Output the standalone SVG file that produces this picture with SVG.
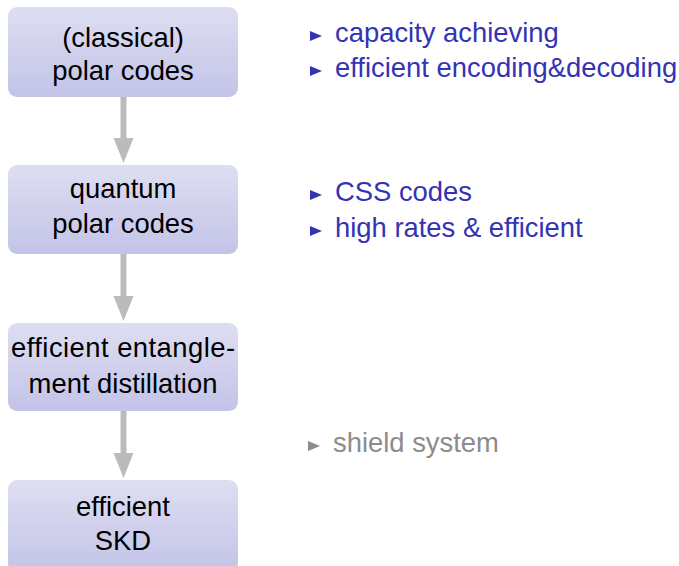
<svg xmlns="http://www.w3.org/2000/svg" width="679" height="566" viewBox="0 0 679 566">
<defs>
<linearGradient id="g" x1="0" y1="0" x2="0" y2="1">
<stop offset="0" stop-color="#dedef2"/>
<stop offset="1" stop-color="#c3c3e8"/>
</linearGradient>
<polygon id="tri" points="0,-5 12,0 0,5"/>
</defs>
<style>
.box{fill:url(#g);}
.t{font-family:"Liberation Sans",Arial,sans-serif;font-size:27.4px;fill:#000;text-anchor:middle;}
.b{font-family:"Liberation Sans",Arial,sans-serif;font-size:27.4px;fill:#3333b3;}
.gray{font-family:"Liberation Sans",Arial,sans-serif;font-size:27.4px;fill:#8c8c8c;}
.shaft{stroke:#bbbbbb;stroke-width:6;fill:none;}
.head{fill:#bbbbbb;}
</style>
<rect width="679" height="566" fill="#ffffff"/>
<g id="connectors">
<line class="shaft" x1="123.5" y1="97" x2="123.5" y2="140"/>
<polygon class="head" points="113.5,138 133.5,138 123.5,163"/>
<line class="shaft" x1="123.5" y1="254" x2="123.5" y2="298"/>
<polygon class="head" points="113.5,296 133.5,296 123.5,321"/>
<line class="shaft" x1="123.5" y1="411" x2="123.5" y2="455"/>
<polygon class="head" points="113.5,453 133.5,453 123.5,478"/>
</g>
<g id="node1">
<rect class="box" x="8" y="7" width="230" height="90" rx="9"/>
<text class="t" x="123" y="47">(classical)</text>
<text class="t" x="123" y="80">polar codes</text>
</g>
<g id="node2">
<rect class="box" x="8" y="165" width="230" height="89" rx="9"/>
<text class="t" x="123" y="198">quantum</text>
<text class="t" x="123" y="233">polar codes</text>
</g>
<g id="node3">
<rect class="box" x="8" y="323" width="230" height="88" rx="9"/>
<text class="t" x="123" y="357" textLength="224" lengthAdjust="spacing">efficient entangle-</text>
<text class="t" x="123" y="393">ment distillation</text>
</g>
<g id="node4">
<rect class="box" x="8" y="480" width="230" height="92" rx="9"/>
<text class="t" x="123" y="516">efficient</text>
<text class="t" x="123" y="550">SKD</text>
</g>
<g id="notes">
<use href="#tri" x="310" y="36" fill="#3333b3"/>
<text class="b" x="335" y="42">capacity achieving</text>
<use href="#tri" x="310" y="71" fill="#3333b3"/>
<text class="b" x="335" y="77">efficient encoding&amp;decoding</text>
<use href="#tri" x="310" y="195" fill="#3333b3"/>
<text class="b" x="335" y="201">CSS codes</text>
<use href="#tri" x="310" y="231" fill="#3333b3"/>
<text class="b" x="335" y="237">high rates &amp; efficient</text>
<use href="#tri" x="308" y="446" fill="#8c8c8c"/>
<text class="gray" x="333" y="452">shield system</text>
</g>
</svg>
